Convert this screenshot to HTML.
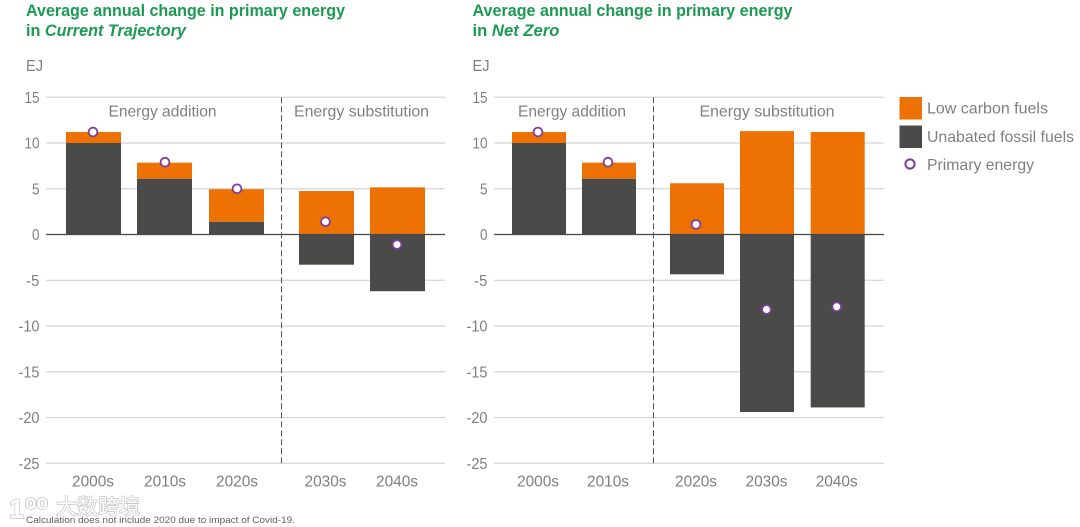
<!DOCTYPE html>
<html lang="en">
<head>
<meta charset="utf-8">
<title>Average annual change in primary energy</title>
<style>
html,body{margin:0;padding:0;background:#fff;}
body{width:1080px;height:527px;overflow:hidden;}
svg{display:block;font-family:"Liberation Sans","Noto Sans CJK SC",sans-serif;filter:blur(0.3px);}
.title{font-size:16.5px;font-weight:700;fill:#1b9a52;}
.tick{font-size:16px;fill:#7f7f7f;}
.sec{font-size:16px;fill:#808080;}
.leg{font-size:16px;fill:#7f7f7f;}
.wm{fill:#fff;stroke:#c6c6c6;stroke-width:1.4px;paint-order:stroke;}
</style>
</head>
<body>
<svg id="chart" xmlns="http://www.w3.org/2000/svg" width="1080" height="527" viewBox="0 0 1080 527">
  <text class="title" x="26" y="16" textLength="319" lengthAdjust="spacingAndGlyphs">Average annual change in primary energy</text>
  <text class="title" x="26" y="36" textLength="160" lengthAdjust="spacingAndGlyphs">in <tspan font-style="italic">Current Trajectory</tspan></text>
  <text class="title" x="472.5" y="16" textLength="320" lengthAdjust="spacingAndGlyphs">Average annual change in primary energy</text>
  <text class="title" x="472.5" y="36" textLength="87" lengthAdjust="spacingAndGlyphs">in <tspan font-style="italic">Net Zero</tspan></text>
  <text class="tick" x="26" y="71" textLength="17" lengthAdjust="spacingAndGlyphs">EJ</text>
  <text class="tick" x="472.5" y="71" textLength="17" lengthAdjust="spacingAndGlyphs">EJ</text>

  <g id="left-plot"></g>
  <g id="right-plot"></g>

  <text class="sec" x="108.5" y="116.5" textLength="108" lengthAdjust="spacingAndGlyphs">Energy addition</text>
  <text class="sec" x="294" y="116.5" textLength="135" lengthAdjust="spacingAndGlyphs">Energy substitution</text>
  <text class="sec" x="518" y="116.5" textLength="108" lengthAdjust="spacingAndGlyphs">Energy addition</text>
  <text class="sec" x="699.5" y="116.5" textLength="135" lengthAdjust="spacingAndGlyphs">Energy substitution</text>

  <g>
    <rect x="899.5" y="97" width="22.5" height="22.5" fill="#ee7203"/>
    <text class="leg" x="927" y="113.5" textLength="121" lengthAdjust="spacingAndGlyphs">Low carbon fuels</text>
    <rect x="899.5" y="125.5" width="22.5" height="22.5" fill="#4a4a49"/>
    <text class="leg" x="927" y="142" textLength="147" lengthAdjust="spacingAndGlyphs">Unabated fossil fuels</text>
    <circle cx="910" cy="164" r="4.6" fill="#fff" stroke="#7b3f98" stroke-width="2"/>
    <text class="leg" x="927" y="170" textLength="107" lengthAdjust="spacingAndGlyphs">Primary energy</text>
  </g>

  <g>
    <text class="wm" x="9" y="518" font-size="27" font-weight="700">1</text>
    <text class="wm" x="25" y="509" font-size="16" font-weight="700" textLength="23" lengthAdjust="spacingAndGlyphs">00</text>
    <text class="wm" x="56" y="514" font-size="21" font-family="'Noto Sans CJK SC',sans-serif">大数跨境</text>
  </g>
  <text x="26" y="523" font-size="9.5" fill="#5f5f5f" textLength="269" lengthAdjust="spacingAndGlyphs">Calculation does not include 2020 due to impact of Covid-19.</text>
</svg>
<script>
var yTicks = [15, 10, 5, 0, -5, -10, -15, -20, -25];
var decades = ['2000s', '2010s', '2020s', '2030s', '2040s'];
var leftLowCarbon = [1.2, 1.75, 3.55, 4.75, 5.15];
var leftFossil = [10, 6.1, 1.4, -3.3, -6.2];
var leftPrimary = [11.2, 7.9, 5, 1.4, -1.1];
var rightLowCarbon = [1.2, 1.75, 5.6, 11.3, 11.2];
var rightFossil = [10, 6.1, -4.35, -19.4, -18.9];
var rightPrimary = [11.2, 7.9, 1.1, -8.2, -7.9];

var NS = 'http://www.w3.org/2000/svg';
function yScale(v) { return 234.5 - v * 9.15; }
function make(parent, tag, attrs, text) {
  var el = document.createElementNS(NS, tag);
  for (var k in attrs) el.setAttribute(k, attrs[k]);
  if (text !== undefined) el.textContent = text;
  parent.appendChild(el);
  return el;
}
function stackRect(base, value) {
  var a = yScale(base), b = yScale(base + value);
  return { y: Math.min(a, b), height: Math.abs(b - a) };
}
function drawPlot(cfg) {
  var g = document.getElementById(cfg.id);
  yTicks.forEach(function (t) {
    var line = make(g, 'line', { x1: cfg.x0, x2: cfg.x1, y1: yScale(t), y2: yScale(t), stroke: '#d4d4d4', 'stroke-width': 1.2 });
    
    
    var str = String(t);
    var w = str.replace('-', '').length * 7.5 + (t < 0 ? 6 : 0);
    var label = make(g, 'text', { 'class': 'tick', x: cfg.x0 - 6.5 - w, y: yScale(t) + 5.5, textLength: w, lengthAdjust: 'spacingAndGlyphs' }, str);
    
    
  });
  decades.forEach(function (d, i) {
    var x = cfg.bandX(i);
    var low = cfg.low[i], fossil = cfg.fossil[i];
    var fossilBox = stackRect(0, fossil);
    var fossilBar = make(g, 'rect', { x: x, y: fossilBox.y, width: cfg.barW, height: fossilBox.height, fill: '#4a4a49' });
    
    
    var lowBox = stackRect(fossil > 0 ? fossil : 0, low);
    var lowBar = make(g, 'rect', { x: x, y: lowBox.y, width: cfg.barW, height: lowBox.height, fill: '#ee7203' });
    
    
    var cat = make(g, 'text', { 'class': 'tick', x: x + cfg.dotDx[i] - 21, y: 486.5, textLength: 42, lengthAdjust: 'spacingAndGlyphs' }, d);
    
    
  });
  var zero = make(g, 'line', { x1: cfg.x0, x2: cfg.x1, y1: yScale(0), y2: yScale(0), stroke: '#4a4a49', 'stroke-width': 1.2 });
  
  
  var divider = make(g, 'line', { x1: cfg.divider, x2: cfg.divider, y1: yScale(15), y2: yScale(-25), stroke: '#555', 'stroke-width': 1, 'stroke-dasharray': '6 3' });
  
  
  decades.forEach(function (d, i) {
    var dot = make(g, 'circle', { cx: cfg.bandX(i) + cfg.dotDx[i], cy: yScale(cfg.primary[i]), r: 4.4, fill: '#fff', stroke: '#7b3f98', 'stroke-width': 1.8 });
    
    
  });
}
var leftStarts = [66, 137, 209, 299, 370];
var rightStarts = [512, 582, 670, 740, 810.7];
drawPlot({
  id: 'left-plot', x0: 46, x1: 445, divider: 281.5, barW: 55,
  bandX: function (i) { return leftStarts[i]; },
  dotDx: [27, 28, 28, 26.5, 27],
  low: leftLowCarbon, fossil: leftFossil, primary: leftPrimary
});
drawPlot({
  id: 'right-plot', x0: 494, x1: 884, divider: 653.5, barW: 54,
  bandX: function (i) { return rightStarts[i]; },
  dotDx: [26, 26, 26, 26.5, 26],
  low: rightLowCarbon, fossil: rightFossil, primary: rightPrimary
});
</script>
</body>
</html>
